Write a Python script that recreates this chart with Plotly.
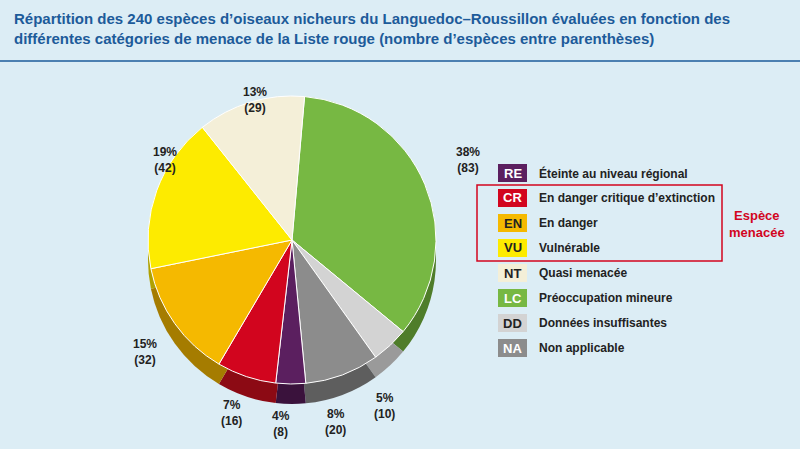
import plotly.graph_objects as go

# données
codes = ["LC", "DD", "NA", "RE", "CR", "EN", "VU", "NT"]
valeurs = [83, 10, 20, 8, 16, 32, 42, 29]
pourcents = [38, 5, 8, 4, 7, 15, 19, 13]
couleurs = ["#77b843", "#d3d3d3", "#8c8c8c", "#5b1f5f", "#d2051e", "#f5b900", "#fdeb00", "#f4efd8"]
sombres = ["#4f7d2a", "#9a9a9a", "#5e5e5e", "#3a123c", "#8c0a14", "#a57c00", "#b0a100", "#b8b39c"]

leg_codes = ["RE", "CR", "EN", "VU", "NT", "LC", "DD", "NA"]
leg_textes = ["Éteinte au niveau régional", "En danger critique d’extinction", "En danger",
              "Vulnérable", "Quasi menacée", "Préoccupation mineure",
              "Données insuffisantes", "Non applicable"]

W, H = 800, 449

def py(y):
    return 1 - y / H

fig = go.Figure()
# épaisseur (effet 3D)
fig.add_trace(go.Pie(values=valeurs, labels=codes, sort=False, direction="clockwise",
                     rotation=5, marker=dict(colors=sombres, line=dict(width=0)),
                     textinfo="none", hoverinfo="skip", showlegend=False,
                     domain=dict(x=[148/W, 436/W], y=[py(404), py(116)])))
fig.add_trace(go.Pie(values=valeurs, labels=codes, sort=False, direction="clockwise",
                     rotation=5, marker=dict(colors=couleurs, line=dict(color="white", width=1)),
                     textinfo="none", showlegend=False,
                     domain=dict(x=[148/W, 436/W], y=[py(384), py(96)])))

ann = []
# étiquettes
pos = {"LC": (468, 160), "DD": (384, 406), "NA": (335, 422), "RE": (281, 424),
       "CR": (232, 413), "EN": (145, 352), "VU": (165, 160), "NT": (255, 100)}
for c, v, p in zip(codes, valeurs, pourcents):
    x, y = pos[c]
    ann.append(dict(x=x/W, y=py(y), xref="paper", yref="paper", showarrow=False,
                    xanchor="center", yanchor="middle",
                    text=f"<b>{p}%<br>({v})</b>", align="center",
                    font=dict(size=12, color="#222")))

shapes = []
for i, (c, t) in enumerate(zip(leg_codes, leg_textes)):
    yc = 173 + i * 25
    col = couleurs[codes.index(c)]
    shapes.append(dict(type="rect", xref="paper", yref="paper", x0=498/W, x1=527/W,
                       y0=py(yc+9), y1=py(yc-9), fillcolor=col, line=dict(width=0)))
    fc = "white" if c in ("RE", "CR", "NA", "LC") else "#222"
    ann.append(dict(x=512.5/W, y=py(yc), xref="paper", yref="paper", showarrow=False,
                    xanchor="center", yanchor="middle", text=f"<b>{c}</b>",
                    font=dict(size=13, color=fc)))
    ann.append(dict(x=537/W, y=py(yc), xref="paper", yref="paper", showarrow=False,
                    yanchor="middle", xanchor="left", text=f"<b>{t}</b>",
                    font=dict(size=12, color="#222")))

shapes.append(dict(type="rect", xref="paper", yref="paper", x0=477/W, x1=722/W,
                   y0=py(261), y1=py(185), line=dict(color="#d2051e", width=1.5)))
ann.append(dict(x=757/W, y=py(224), xref="paper", yref="paper", showarrow=False,
                xanchor="center", yanchor="middle",
                text="<b>Espèce<br>menacée</b>", font=dict(size=13, color="#d2051e")))
shapes.append(dict(type="line", xref="paper", yref="paper", x0=0, x1=1,
                   y0=py(61), y1=py(61), line=dict(color="#1d5b9a", width=1.5)))
ann.append(dict(x=12/W, y=py(8), xref="paper", yref="paper", showarrow=False,
                xanchor="left", yanchor="top", align="left",
                text="<b>Répartition des 240 espèces d’oiseaux nicheurs du Languedoc–Roussillon évaluées en fonction des<br>différentes catégories de menace de la Liste rouge (nombre d’espèces entre parenthèses)</b>",
                font=dict(size=15, color="#1d5b9a")))

fig.update_layout(width=W, height=H, margin=dict(l=0, r=0, t=0, b=0),
                  paper_bgcolor="#dcedf5", plot_bgcolor="#dcedf5",
                  font=dict(family="Liberation Sans"),
                  annotations=ann, shapes=shapes)
fig.write_html("out.html", config={"displayModeBar": False},
               post_script="document.body.style.margin='0';document.body.style.overflow='hidden';")
